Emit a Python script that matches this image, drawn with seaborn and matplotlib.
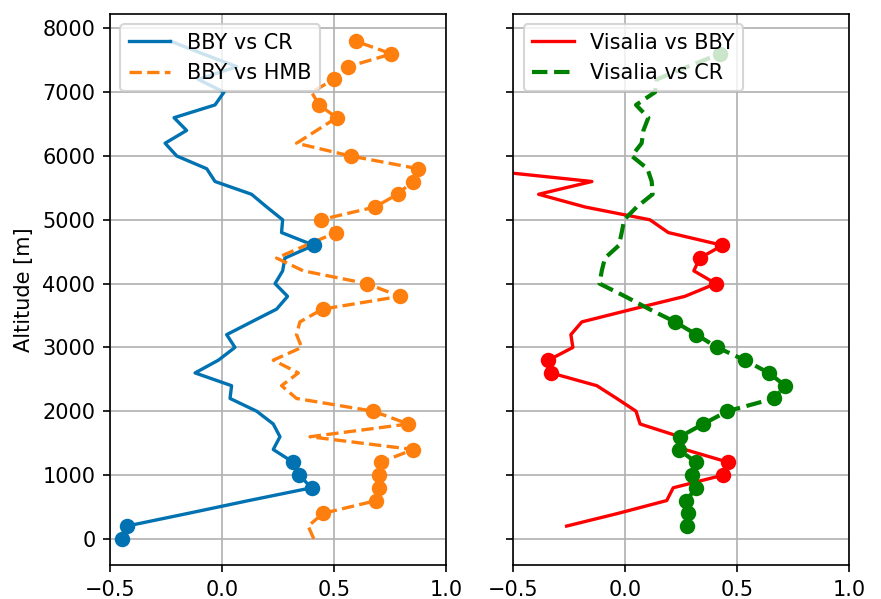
import numpy as np
import pandas as pd
import matplotlib
matplotlib.use("Agg")
import matplotlib.pyplot as plt
import seaborn as sns

# ---------------- data ----------------
alt_left = list(range(0, 8000, 200))          # 0 .. 7800 m

bby_vs_cr = [-0.448, -0.425, -0.15, 0.12, 0.40, 0.344, 0.318, 0.229, 0.259, 0.229,
             0.155, 0.036, 0.043, -0.12, -0.016, 0.058, 0.021, 0.132, 0.244, 0.293,
             0.237, 0.271, 0.281, 0.41, 0.266, 0.271, 0.20, 0.132, -0.031, -0.068,
             -0.202, -0.254, -0.158, -0.214, -0.031, 0.009, -0.106, 0.066, -0.085, -0.23]
bby_vs_cr_sig = [1, 1, 0, 0, 1, 1, 1, 0, 0, 0,
                 0, 0, 0, 0, 0, 0, 0, 0, 0, 0,
                 0, 0, 0, 1, 0, 0, 0, 0, 0, 0,
                 0, 0, 0, 0, 0, 0, 0, 0, 0, 0]

bby_vs_hmb = [0.41, 0.385, 0.452, 0.69, 0.702, 0.702, 0.708, 0.854, 0.393, 0.832,
              0.676, 0.333, 0.266, 0.341, 0.229, 0.356, 0.333, 0.348, 0.449, 0.795,
              0.646, 0.363, 0.244, 0.375, 0.509, 0.44, 0.683, 0.784, 0.851, 0.877,
              0.574, 0.333, 0.423, 0.512, 0.434, 0.40, 0.50, 0.564, 0.757, 0.597]
bby_vs_hmb_sig = [0, 0, 1, 1, 1, 1, 1, 1, 0, 1,
                  1, 0, 0, 0, 0, 0, 0, 0, 1, 1,
                  1, 0, 0, 0, 1, 1, 1, 1, 1, 1,
                  1, 0, 0, 1, 1, 0, 1, 1, 1, 1]

alt_red = list(range(200, 6000, 200))         # 200 .. 5800 m
visalia_vs_bby = [-0.261, -0.03, 0.186, 0.215, 0.439, 0.461, 0.267, 0.245, 0.067, 0.049,
                  -0.037, -0.126, -0.331, -0.342, -0.233, -0.242, -0.193, 0.034, 0.267, 0.405,
                  0.307, 0.334, 0.435, 0.193, 0.111, -0.178, -0.386, -0.148, -0.69]
visalia_vs_bby_sig = [0, 0, 0, 0, 1, 1, 0, 0, 0, 0,
                      0, 0, 1, 1, 0, 0, 0, 0, 0, 1,
                      0, 1, 1, 0, 0, 0, 0, 0, 0]

alt_green = list(range(200, 7800, 200))       # 200 .. 7600 m
visalia_vs_cr = [0.275, 0.282, 0.272, 0.319, 0.301, 0.316, 0.24, 0.245, 0.349, 0.457,
                 0.665, 0.715, 0.642, 0.535, 0.411, 0.319, 0.223, 0.108, 0.0, -0.114,
                 -0.104, -0.09, -0.027, -0.015, -0.004, 0.052, 0.123, 0.119, 0.10, 0.03,
                 0.074, 0.082, 0.104, 0.049, 0.134, 0.141, 0.28, 0.423]
visalia_vs_cr_sig = [1, 1, 1, 1, 1, 1, 1, 1, 1, 1,
                     1, 1, 1, 1, 1, 1, 1, 0, 0, 0,
                     0, 0, 0, 0, 0, 0, 0, 0, 0, 0,
                     0, 0, 0, 0, 0, 0, 0, 1]

x_ticks = [-0.5, 0.0, 0.5, 1.0]
y_ticks = [0, 1000, 2000, 3000, 4000, 5000, 6000, 7000, 8000]

c_blue = "#0072b2"
c_orange = "#ff7f0e"
c_red = "#ff0000"
c_green = "#008000"

# ---------------- figure ----------------
W, H, DPI = 881, 599, 150
fig, (ax1, ax2) = plt.subplots(1, 2, sharey=True, figsize=(W / DPI, H / DPI), dpi=DPI)
fig.subplots_adjust(left=110 / W, right=849 / W, bottom=1 - 565 / H, top=1 - 14 / H, wspace=0.2)


def draw(ax, vals, alts, sig, color, ls, lw, label):
    df = pd.DataFrame({"r": vals, "alt": alts, "sig": sig})
    sns.lineplot(data=df, x="r", y="alt", sort=False, estimator=None, ax=ax,
                 color=color, linestyle=ls, linewidth=lw, label=label)
    sub = df[df["sig"] == 1]
    sns.scatterplot(data=sub, x="r", y="alt", ax=ax, color=color, s=55,
                    linewidth=0, legend=False, zorder=3)


draw(ax1, bby_vs_cr, alt_left, bby_vs_cr_sig, c_blue, "-", 1.6, "BBY vs CR")
draw(ax1, bby_vs_hmb, alt_left, bby_vs_hmb_sig, c_orange, "--", 1.6, "BBY vs HMB")
draw(ax2, visalia_vs_bby, alt_red, visalia_vs_bby_sig, c_red, "-", 1.6, "Visalia vs BBY")
draw(ax2, visalia_vs_cr, alt_green, visalia_vs_cr_sig, c_green, "--", 2.0, "Visalia vs CR")

for ax in (ax1, ax2):
    ax.set_xlim(-0.5, 1.0)
    ax.set_xticks(x_ticks)
    ax.set_xlabel("")
    ax.grid(True, color="#b0b0b0", linewidth=0.8)
    ax.set_axisbelow(True)
    ax.legend(loc="upper left")
    for s in ax.spines.values():
        s.set_color("black")

ax1.set_ylim(-410, 8225)
ax1.set_yticks(y_ticks)
ax1.set_ylabel("Altitude [m]")
ax2.set_ylabel("")

fig.savefig("out.png", dpi=DPI)
